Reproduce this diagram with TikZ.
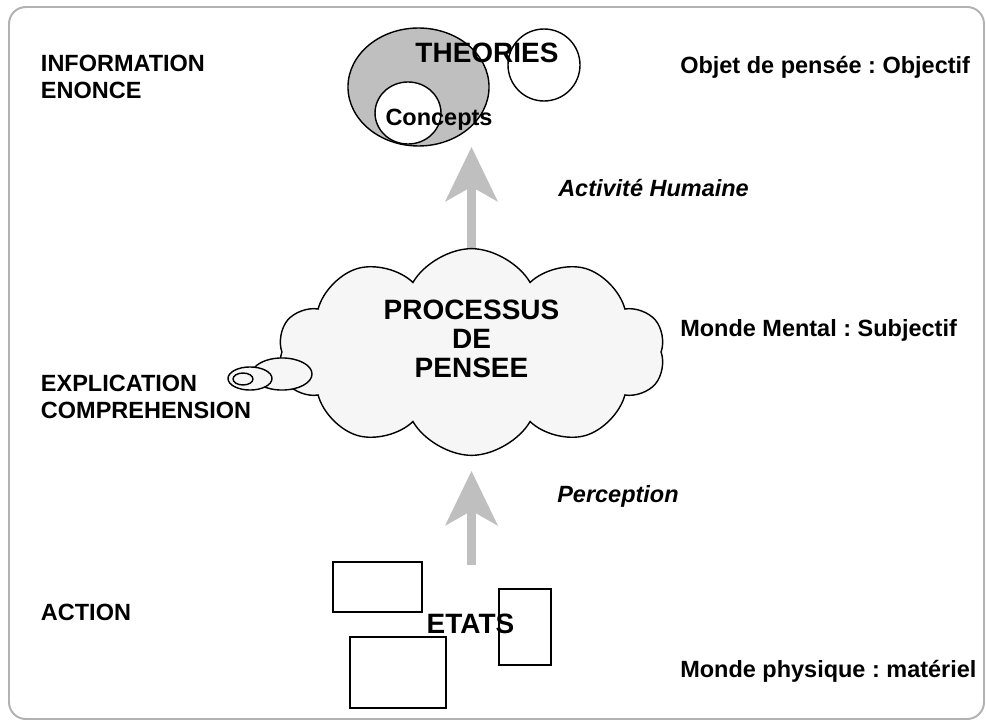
\documentclass[tikz,border=0pt]{standalone}
\usepackage{fontspec}
\setmainfont{Liberation Sans}
\usetikzlibrary{shapes.geometric,shapes.symbols,arrows.meta,backgrounds}
\frenchspacing

\begin{document}
\begin{tikzpicture}[x=0.025cm, y=-0.025cm,
    sidetext/.style={inner sep=0pt, font=\fontsize{16.7pt}{19.7pt}\selectfont\bfseries, align=left},
    slanttext/.style={inner sep=0pt, font=\fontsize{16.7pt}{19.7pt}\selectfont\bfseries\itshape},
    bigtext/.style={inner sep=0pt, font=\fontsize{19.9pt}{20.8pt}\selectfont\bfseries, align=center},
    outline/.style={draw=black, line width=1pt},
    bubble/.style={outline, ellipse, fill=gray!7, inner sep=0pt},
    stateb/.style={outline, rectangle, fill=white, inner sep=0pt},
    liftarrow/.style={draw=gray!50, line width=5.7pt,
      -{Stealth[length=39pt, width=37.7pt, inset=10.7pt, line width=0pt, fill=gray!50]}}]
  \useasboundingbox (0,0) rectangle (986,722);
  \draw[gray!60, line width=1.4pt, rounded corners=12pt] (9,7) rectangle (984,719);

  \node[bubble, fill=gray!50, minimum width=100.3pt, minimum height=83.9pt] (theo) at (418.5,87) {};
  \node[bubble, fill=white, minimum width=46.9pt, minimum height=44.1pt] (conc) at (408,113) {};
  \node[bubble, fill=white, minimum width=51.2pt, minimum height=51.2pt] (orb) at (544,65) {};
  \node[bigtext, anchor=base] (theotxt) at (487,63) {THEORIES};
  \node[sidetext, anchor=base] (conctxt) at (439,126) {Concepts};

  \node[cloud, cloud puffs=10, cloud puff arc=120, aspect=2, outline, fill=gray!7,
    minimum width=275pt, minimum height=147pt] (pens) at (471.5,352) {};
  \node[bigtext] (penstxt) at (471.5,339) {PROCESSUS\\DE\\PENSEE};
  \node[bubble, minimum width=42.7pt, minimum height=22.8pt] (bulle1) at (282,374) {};
  \node[bubble, minimum width=31.3pt, minimum height=16.4pt] (bulle2) at (250,378.5) {};
  \node[bubble, minimum width=14.2pt, minimum height=8.5pt] (bulle3) at (243,379) {};

  \coordinate (haut) at (471.5,147);
  \coordinate (milieu) at (471.5,471);
  \coordinate (bas) at (471.5,565);
  \begin{scope}[on background layer]
    \draw[liftarrow] (pens.center) -- (haut);
  \end{scope}
  \draw[liftarrow] (bas) -- (milieu);

  \node[stateb, minimum width=63.3pt, minimum height=35.6pt] (etatA) at (377.5,587) {};
  \node[stateb, minimum width=68.3pt, minimum height=50.5pt] (etatB) at (398,672.5) {};
  \node[stateb, minimum width=37pt, minimum height=54.1pt] (etatC) at (525,627) {};
  \node[bigtext, anchor=base] (etats) at (470.5,633) {ETATS};

  \node[sidetext, anchor=north west] (info) at (40.7,54.5) {INFORMATION\\ENONCE};
  \node[sidetext, anchor=north west] (expl) at (40.7,374.5) {EXPLICATION\\COMPREHENSION};
  \node[sidetext, anchor=base west] (action) at (40.7,620.5) {ACTION};
  \node[sidetext, anchor=base west] (objet) at (680,73.3) {Objet de pensée : Objectif};
  \node[slanttext, anchor=base west] (activ) at (558,196.7) {Activité Humaine};
  \node[sidetext, anchor=base west] (mental) at (680,336.5) {Monde Mental : Subjectif};
  \node[slanttext, anchor=base west] (percep) at (557,502) {Perception};
  \node[sidetext, anchor=base west] (physique) at (680,677.5) {Monde physique : matériel};
\end{tikzpicture}
\end{document}
